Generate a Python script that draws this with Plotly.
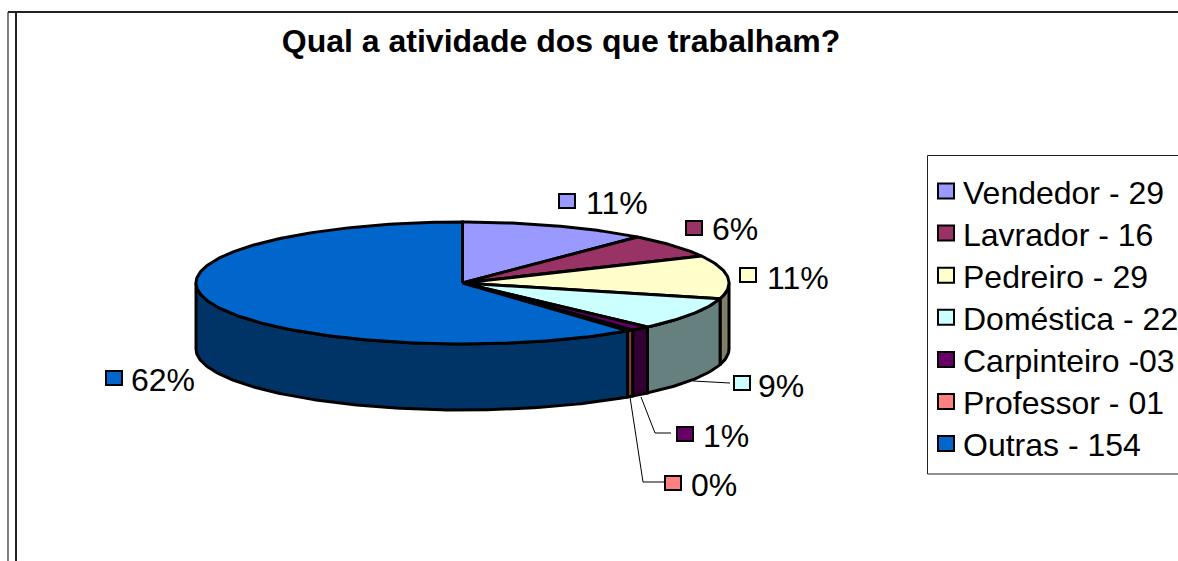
import math
import plotly.graph_objects as go

categories = ["Vendedor - 29", "Lavrador - 16", "Pedreiro - 29", "Doméstica - 22",
              "Carpinteiro -03", "Professor - 01", "Outras - 154"]
values = [29, 16, 29, 22, 3, 1, 154]
pct_labels = ["11%", "6%", "11%", "9%", "1%", "0%", "62%"]
top_colors = ["#9999FF", "#993366", "#FFFFCC", "#CCFFFF", "#660066", "#FF8080", "#0066CC"]
side_colors = ["#4D4D80", "#4D1A33", "#808066", "#668080", "#330033", "#804040", "#003366"]

W, H = 1178, 561
CX, CY, RX, RY, DEPTH = 462.5, 283, 266.5, 61, 66
FONT = "Liberation Sans, Arial, sans-serif"
LW = 3


def pt(deg, drop=0):
    t = math.radians(deg)
    return CX + RX * math.sin(t), CY - RY * math.cos(t) + drop


def arc(a, b, drop=0):
    n = max(2, int(abs(b - a)) + 2)
    return [pt(a + (b - a) * i / (n - 1), drop) for i in range(n)]


def poly(points, fill, name):
    xs = [p[0] for p in points] + [points[0][0]]
    ys = [p[1] for p in points] + [points[0][1]]
    return go.Scatter(x=xs, y=ys, mode="lines", fill="toself", fillcolor=fill,
                      line=dict(color="black", width=LW), showlegend=False,
                      hoverinfo="skip", name=name)


total = sum(values)
edges = [0]
for v in values:
    edges.append(edges[-1] + v / total * 360)

fig = go.Figure()

# walls (front half only, right to left)
for i, name in enumerate(categories):
    a, b = max(edges[i], 90), min(edges[i + 1], 270)
    if b > a:
        fig.add_trace(poly(arc(a, b) + arc(b, a, DEPTH), side_colors[i], name))

# top faces
for i, name in enumerate(categories):
    fig.add_trace(poly([(CX, CY)] + arc(edges[i], edges[i + 1]), top_colors[i], name))

# label placement: swatch left, swatch top, text left, text centre y
label_pos = [(559, 194, 584, 203), (686, 221, 710, 229), (740, 268, 765, 278),
             (734, 376, 756, 386), (677, 427, 701, 436), (665, 476, 689, 485),
             (106, 371, 129, 380)]
shapes = []
annotations = []
for (sx, sy, tx, ty), text, col in zip(label_pos, pct_labels, top_colors):
    shapes.append(dict(type="rect", x0=sx, x1=sx + 16, y0=sy, y1=sy + 14, fillcolor=col,
                       line=dict(color="black", width=2), xref="x", yref="y"))
    annotations.append(dict(x=tx, y=ty, text=text, showarrow=False, xanchor="left",
                            yanchor="middle", xref="x", yref="y",
                            font=dict(family=FONT, size=32, color="black")))

# leader lines
for path in ["M693,381 L730,383", "M641,397 L655,433 L671,433", "M630,397 L643,482 L665,482"]:
    shapes.append(dict(type="path", path=path, line=dict(color="black", width=1), xref="x", yref="y"))

# legend box and rows
shapes.append(dict(type="rect", x0=927.5, x1=W + 4, y0=155.5, y1=474, fillcolor="white",
                   line=dict(color="#222222", width=1), xref="x", yref="y"))
for i, (name, col) in enumerate(zip(categories, top_colors)):
    row_y = 191.5 + 42.1 * i
    shapes.append(dict(type="rect", x0=938, x1=954, y0=row_y - 8, y1=row_y + 7, fillcolor=col,
                       line=dict(color="black", width=2), xref="x", yref="y"))
    annotations.append(dict(x=961, y=row_y + 1, text=name, showarrow=False, xanchor="left",
                            yanchor="middle", xref="x", yref="y",
                            font=dict(family=FONT, size=32, color="black")))

# chart frame
shapes += [
    dict(type="line", x0=8, x1=8, y0=12, y1=H, line=dict(color="#808080", width=2), xref="x", yref="y"),
    dict(type="line", x0=16, x1=16, y0=12, y1=H, line=dict(color="#222222", width=2), xref="x", yref="y"),
    dict(type="line", x0=8, x1=W, y0=12, y1=12, line=dict(color="#222222", width=2), xref="x", yref="y"),
]

fig.update_layout(
    width=W, height=H, autosize=False, showlegend=False,
    margin=dict(l=0, r=0, t=0, b=0, autoexpand=False),
    paper_bgcolor="white", plot_bgcolor="white",
    xaxis=dict(range=[0, W], visible=False, fixedrange=True),
    yaxis=dict(range=[H, 0], visible=False, fixedrange=True),
    title=dict(text="<b>Qual a atividade dos que trabalham?</b>", x=561 / W, xanchor="center",
               y=1 - 41 / H, yanchor="middle",
               font=dict(family=FONT, size=32, color="black")),
    shapes=shapes, annotations=annotations,
)
fig.write_html("out.html", config={"displayModeBar": False},
               post_script="document.body.style.margin='0';document.body.style.overflow='hidden';")
